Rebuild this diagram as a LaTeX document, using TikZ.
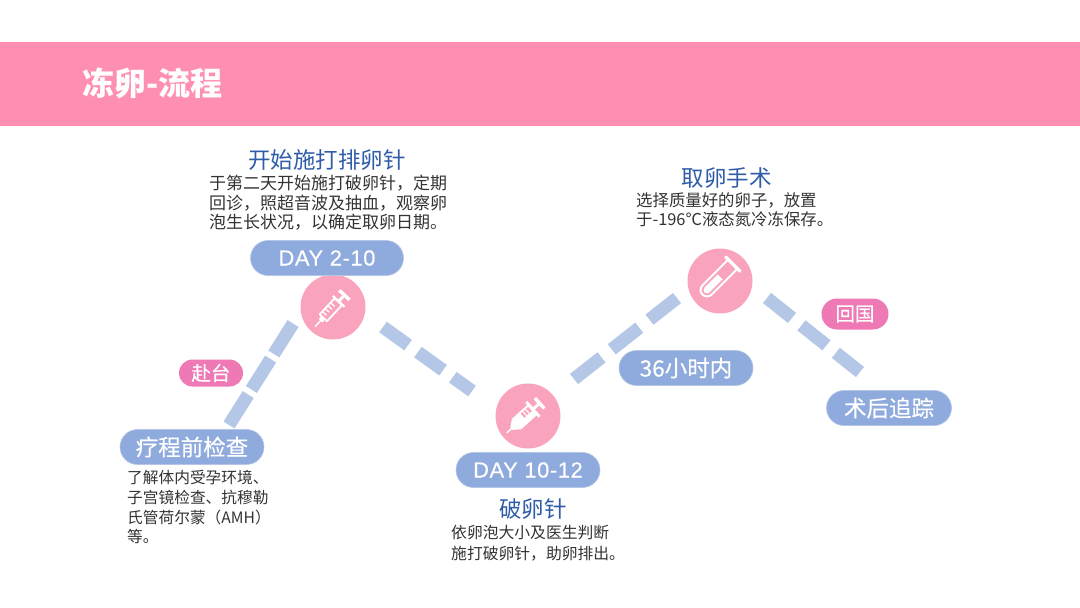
\documentclass[tikz,border=0pt]{standalone}
\usepackage{fontspec}
\setmainfont{Noto Sans CJK SC}
\newfontfamily\medcjk[FakeBold=0.4]{Noto Sans CJK SC}
\newfontfamily\medlat[FakeBold=0.4,LetterSpace=3]{Liberation Sans}
\definecolor{bandpink}{HTML}{FF8FB1}
\definecolor{circpink}{HTML}{F9A3BC}
\definecolor{pillblue}{HTML}{8FAADC}
\definecolor{dashblue}{HTML}{B4C7E7}
\definecolor{tagpink}{HTML}{EE79B5}
\definecolor{headblue}{HTML}{2F5CA8}
\definecolor{bodygrey}{HTML}{333333}
\usetikzlibrary{shapes.misc}
\tikzset{
  x=1pt,y=-1pt,
  pill/.style={rounded rectangle,fill=pillblue,text=white,font=\medcjk\fontsize{22.5}{22.5}\selectfont,inner sep=0pt,minimum height=35pt,draw=dashblue,line width=.6pt},
  tagpill/.style={rounded rectangle,fill=tagpink,text=white,font=\medcjk\fontsize{19.5}{19.5}\selectfont,inner sep=0pt,minimum height=27pt,draw=none},
  iconcirc/.style={circle,fill=circpink,minimum size=65pt,inner sep=0pt,draw=none},
  head/.style={text=headblue,font=\fontsize{22.5}{22.5}\selectfont,inner sep=0pt},
  bodytxt/.style={text=bodygrey,inner sep=0pt,align=left,anchor=north west},
  dashline/.style={draw=dashblue,line width=13pt,line cap=butt},
  iconline/.style={draw=white,line width=1.8pt,line join=round},
}
\begin{document}
\begin{tikzpicture}
\useasboundingbox (0,0) rectangle (1080,608);
\fill[bandpink] (0,42) rectangle (1080,126);
\node[text=white,font=\bfseries\fontsize{32}{32}\selectfont,inner sep=0pt,anchor=west] (title) at (82,83) {冻卵-流程};

% connectors
\coordinate (a1) at (229,425); \coordinate (a2) at (294,322);
\coordinate (b1) at (383,327); \coordinate (b2) at (472,391);
\coordinate (c1) at (574,379); \coordinate (c2) at (677,298);
\coordinate (d1) at (767,298); \coordinate (d2) at (860,372);
\draw[dashline,dash pattern=on 36pt off 6pt] (a1) -- (a2);
\draw[dashline,dash pattern=on 31pt off 12pt] (b1) -- (b2);
\draw[dashline,dash pattern=on 35pt off 13pt] (c1) -- (c2);
\draw[dashline,dash pattern=on 32pt off 12pt] (d1) -- (d2);

% circles
\node[iconcirc] (c-a) at (333,307) {};
\node[iconcirc] (c-b) at (528,416) {};
\node[iconcirc] (c-c) at (720,281) {};

% syringe 1
\begin{scope}[shift={(331.5,309)},rotate=47]
  \draw[iconline] (-12,-5) rectangle (10,5);
  \foreach \p in {-8,-4,0,4}{\draw[white,line width=1.3pt] (\p,-5) -- (\p,0.5);}
  \fill[white] (-16,-2.5) rectangle (-12,2.5);
  \draw[white,line width=1.5pt,line cap=round] (-16,0) -- (-24,0);
  \draw[white,line width=3pt] (10,0) -- (18,0);
  \draw[white,line width=3.4pt] (19,-7) -- (19,7);
  \draw[white,line width=2.2pt] (10.5,-8) -- (10.5,8);
\end{scope}
% syringe 2
\begin{scope}[shift={(525.5,416)},rotate=42]
  \fill[white] (-12,-7) rectangle (9,7);
  \fill[circpink] (-2,-5) rectangle (8,0.5);
  \foreach \p in {1,4.5}{\fill[white] (\p-.6,-5) rectangle (\p+.6,0.5);}
  \fill[white] (-12,-7) -- (-19,-1.5) -- (-19,1.5) -- (-12,7) -- cycle;
  \draw[white,line width=1.4pt,line cap=round] (-19,0) -- (-25,0);
  \draw[white,line width=3pt] (9,0) -- (18,0);
  \draw[white,line width=3.4pt] (19,-7) -- (19,7);
  \draw[white,line width=2.8pt] (10,-10) -- (10,10);
\end{scope}
% test tube
\begin{scope}[shift={(718,279)},rotate=-45]
  \draw[white,line width=2pt,line join=round] (-6.5,-21) -- (-6.5,15.5) arc[start angle=180,end angle=0,x radius=6.5,y radius=6.5] -- (6.5,-21);
  \fill[white] (-3.5,-3) -- (3.5,-3) -- (3.5,15.5) arc[start angle=0,end angle=180,x radius=3.5,y radius=3.5] -- cycle;
  \draw[white,line width=3.4pt,line cap=round] (-10,-21) -- (10,-21);
\end{scope}

% pills
\node[pill,minimum width=153pt,font=\medlat\fontsize{21.8}{21.8}\selectfont] (p-a) at (327,258) {DAY 2-10};
\node[pill,minimum width=144pt,font=\medlat\fontsize{21.8}{21.8}\selectfont] (p-b) at (528,470) {DAY 10-12};
\node[pill,minimum width=134pt] (p-c) at (686,368) {36小时内};
\node[pill,minimum width=144pt] (p-d) at (192,447) {疗程前检查};
\node[pill,minimum width=125pt] (p-e) at (889,408) {术后追踪};
\node[tagpill,minimum width=64pt] (t-a) at (211,373) {赴台};
\node[tagpill,minimum width=67pt,minimum height=31pt] (t-b) at (855,314) {回国};

% headings
\node[head] (h-a) at (327,160) {开始施打排卵针};
\node[head] (h-b) at (533,509) {破卵针};
\node[head] (h-c) at (726.5,178) {取卵手术};

% body
\node[bodytxt,font=\fontsize{17}{19.6}\selectfont] (b-a) at (209,175) {于第二天开始施打破卵针，定期\\回诊，照超音波及抽血，观察卵\\泡生长状况，以确定取卵日期。};
\node[bodytxt,font=\fontsize{15.8}{20.6}\selectfont] (b-b) at (451,525) {依卵泡大小及医生判断\\施打破卵针，助卵排出。};
\node[bodytxt,font=\fontsize{16.4}{19.6}\selectfont] (b-c) at (636,192) {选择质量好的卵子，放置\\于-196℃液态氮冷冻保存。};
\node[bodytxt,font=\fontsize{15.7}{19.8}\selectfont] (b-d) at (127,470) {了解体内受孕环境、\\子宫镜检查、抗穆勒\\氏管荷尔蒙（AMH）\\等。};
\end{tikzpicture}
\end{document}
